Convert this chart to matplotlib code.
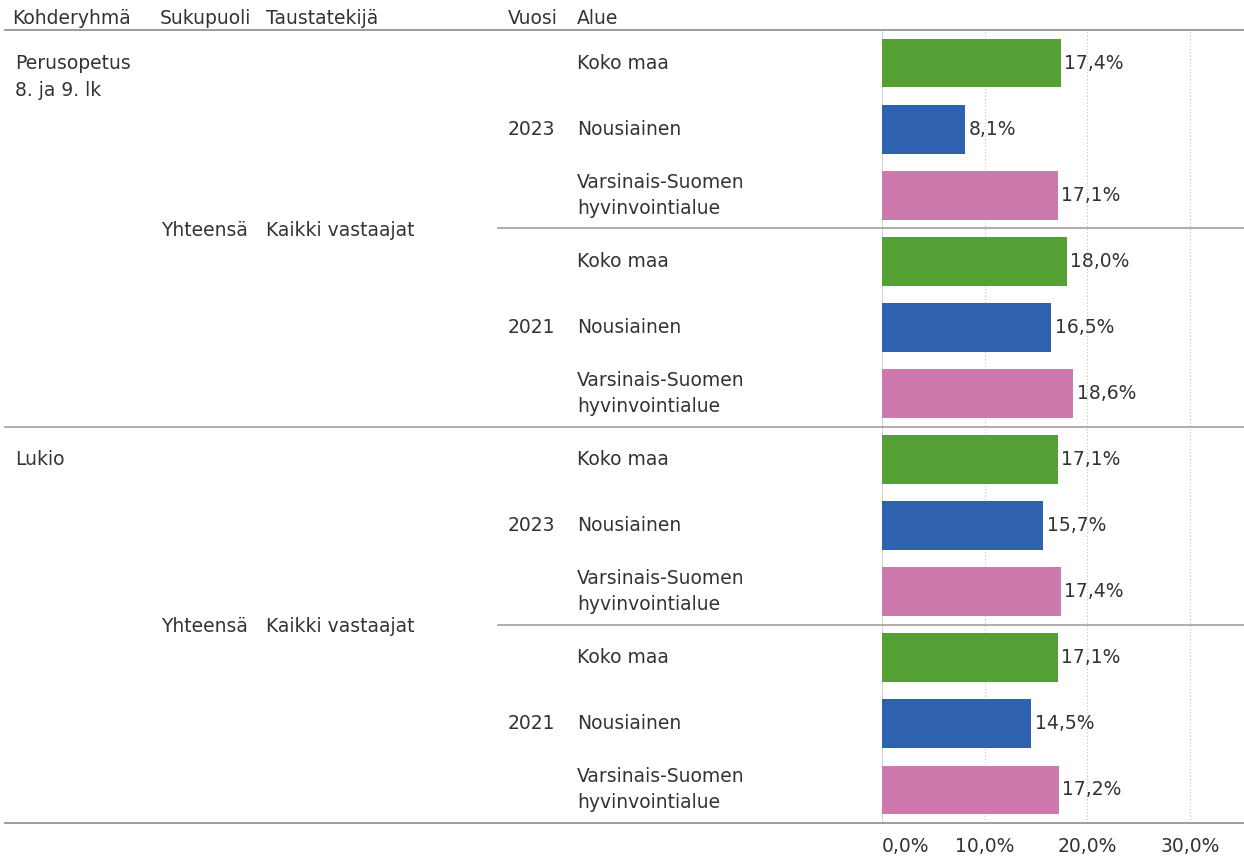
import matplotlib.pyplot as plt
from matplotlib.transforms import blended_transform_factory

plt.rcParams['font.family'] = ['DejaVu Sans']

kohderyhmat = [['Perusopetus', '8. ja 9. lk'], ['Lukio']]
vuodet = ['2023', '2021']
alueet = [['Koko maa'], ['Nousiainen'], ['Varsinais-Suomen', 'hyvinvointialue']]
arvot = [
    [17.4, 8.1, 17.1],   # Perusopetus 2023
    [18.0, 16.5, 18.6],  # Perusopetus 2021
    [17.1, 15.7, 17.4],  # Lukio 2023
    [17.1, 14.5, 17.2],  # Lukio 2021
]
varit = ['#55A035', '#2F62AE', '#CE79AD']
otsikot = ['Kohderyhmä', 'Sukupuoli', 'Taustatekijä', 'Vuosi', 'Alue']
xticks = [0, 10, 20, 30]

W, H = 1244, 857
fig = plt.figure(figsize=(W / 100, H / 100), dpi=100)
top, bottom = 30, 823
x0 = 882
ax = fig.add_axes([x0 / W, (H - bottom) / H, (W - x0) / W, (bottom - top) / H])

n = 12
rowpx = (bottom - top) / n
ax.set_ylim(n, 0)
ax.set_xlim(0, (W - x0) / 102.7 * 10)

tekstivari = '#333333'
fs = 13.5
tr = blended_transform_factory(fig.transFigure, ax.transData)

def fx(px):
    return px / W

def teksti(x, y, t, **kw):
    ax.text(x, y, t, transform=tr, ha='left', va='center', fontsize=fs,
            color=tekstivari, clip_on=False, **kw)

rivi = 0
for g, ryhma in enumerate(kohderyhmat):
    for i, osa in enumerate(ryhma):
        teksti(fx(15), g * 6 + 0.5 + i * 27 / rowpx, osa)
    teksti(fx(161), g * 6 + 3 + 2 / rowpx, 'Yhteensä')
    teksti(fx(266), g * 6 + 3 + 2 / rowpx, 'Kaikki vastaajat')
    for v, vuosi in enumerate(vuodet):
        blokki = g * 2 + v
        teksti(fx(508), blokki * 3 + 1.5, vuosi)
        for a, alue in enumerate(alueet):
            y = rivi + 0.5
            val = arvot[blokki][a]
            ax.barh(y, val, height=0.74, color=varit[a], zorder=3)
            ax.text(val + 0.35, y, f'{val:.1f}%'.replace('.', ','), ha='left', va='center',
                    fontsize=fs, color=tekstivari, zorder=4)
            k = len(alue)
            for i, osa in enumerate(alue):
                teksti(fx(577), y + (i - (k - 1) / 2) * 26 / rowpx, osa)
            rivi += 1

# separators
for y, xs in [(0, 5), (12, 5), (6, 5), (3, 498), (9, 498)]:
    ax.plot([fx(xs), 1], [y, y], transform=tr, color='#8c8c8c' if y in (0, 12) else '#a0a0a0',
            lw=1.2, clip_on=False, zorder=5)

# headers
otsikko_x = [12, 160, 266, 508, 577]
for t, px in zip(otsikot, otsikko_x):
    fig.text(fx(px), 1 - 18.5 / H, t, ha='left', va='center', fontsize=fs, color=tekstivari)

# grid
for xt in xticks[1:]:
    ax.axvline(xt, color='#c0c0c0', lw=0.8, ls=(0, (1, 2)), zorder=1)
ax.axvline(0, color='#cccccc', lw=1.2, zorder=2)

for s in ax.spines.values():
    s.set_visible(False)
ax.set_yticks([])
ax.set_xticks(xticks)
ax.set_xticklabels([f'{x:.1f}%'.replace('.', ',') for x in xticks], fontsize=fs, color=tekstivari)
ax.tick_params(axis='x', length=0, pad=10)
ax.get_xticklabels()[0].set_ha('left')

fig.savefig('out.png', dpi=100)
